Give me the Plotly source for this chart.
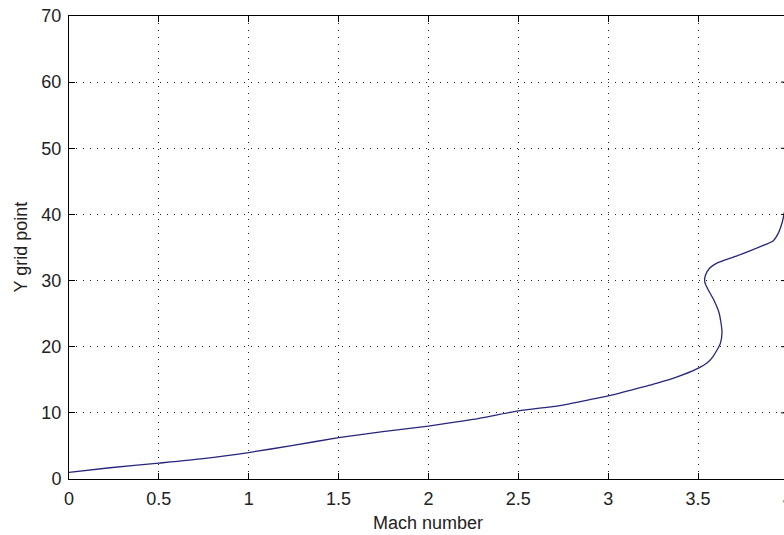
import plotly.graph_objects as go

# Mach number profile across the Y grid points
mach = [0.0, 0.228, 0.5, 0.746, 1.0, 1.247, 1.5, 1.746, 2.0, 2.247, 2.5, 2.73,
        2.898, 3.0, 3.12, 3.268, 3.38, 3.49, 3.556, 3.583, 3.624, 3.633, 3.617,
        3.587, 3.556, 3.537, 3.541, 3.565, 3.602, 3.713, 3.843, 3.917, 3.945,
        3.969, 3.977, 3.99]
ygrid = [1.0, 1.7, 2.4, 3.07, 4.0, 5.09, 6.24, 7.15, 8.0, 9.0, 10.3, 11.1,
         12.0, 12.55, 13.4, 14.47, 15.4, 16.6, 17.7, 18.5, 20.5, 22.3, 25.1,
         27.1, 28.6, 29.8, 30.8, 31.9, 32.6, 33.7, 35.1, 36.0, 37.1,
         38.9, 39.9, 41.5]

x_ticks = [0, 0.5, 1, 1.5, 2, 2.5, 3, 3.5, 4]
y_ticks = [0, 10, 20, 30, 40, 50, 60, 70]
x_label = "Mach number"
y_label = "Y grid point"

FONT = "Liberation Sans, Arial, sans-serif"
FSIZE = 18
TXT = "#222222"
X_MAX = 4.0
X_VIEW = 3.978  # right edge of the visible area

fig = go.Figure()
fig.add_trace(go.Scatter(
    x=mach, y=ygrid, mode="lines",
    line=dict(color="#26267c", width=1.3, shape="spline", smoothing=0.6),
    showlegend=False, hoverinfo="skip",
))

axis_common = dict(
    showline=True, linecolor="black", linewidth=1,
    ticks="inside", ticklen=6, tickcolor="black", tickwidth=1,
    showgrid=True, gridcolor="#222222", gridwidth=1, griddash="1px,6px",
    zeroline=False,
    tickfont=dict(family=FONT, size=FSIZE, color=TXT),
)

fig.update_xaxes(
    range=[0, X_VIEW], tickvals=x_ticks[:-1],
    ticktext=[f"{v:g}" for v in x_ticks[:-1]],
    mirror="ticks", ticklabelstandoff=3, **axis_common,
)
fig.update_yaxes(
    range=[0, 70], tickvals=y_ticks,
    ticktext=[str(v) for v in y_ticks],
    mirror=False, ticklabelstandoff=3, **axis_common,
)

# right-hand box ticks at x = 4 (the box edge itself lies just past the view)
for v in y_ticks[1:-1]:
    fig.add_shape(type="line", xref="x", yref="y",
                  x0=X_MAX - 7 / 180, x1=X_MAX, y0=v, y1=v,
                  line=dict(color="black", width=1))

# last x tick label, centred on the box edge just past the view
x4_paper = 1 + (X_MAX - X_VIEW) / X_VIEW
fig.add_annotation(x=x4_paper, y=0, xref="paper", yref="paper",
                   text=str(x_ticks[-1]), showarrow=False,
                   xanchor="center", yanchor="top", yshift=-8,
                   font=dict(family=FONT, size=FSIZE, color=TXT))

fig.add_annotation(x=2, y=0, xref="x", yref="paper", text=x_label,
                   showarrow=False, yanchor="middle", yshift=-44,
                   font=dict(family=FONT, size=FSIZE, color=TXT))
fig.add_annotation(x=0, y=35, xref="paper", yref="y", text=y_label,
                   showarrow=False, textangle=-90, xanchor="center",
                   xshift=-49,
                   font=dict(family=FONT, size=FSIZE, color=TXT))

fig.update_layout(
    width=784, height=535,
    margin=dict(l=69, r=0, t=16, b=56),
    paper_bgcolor="white", plot_bgcolor="white",
)

fig.write_html("out.html")
